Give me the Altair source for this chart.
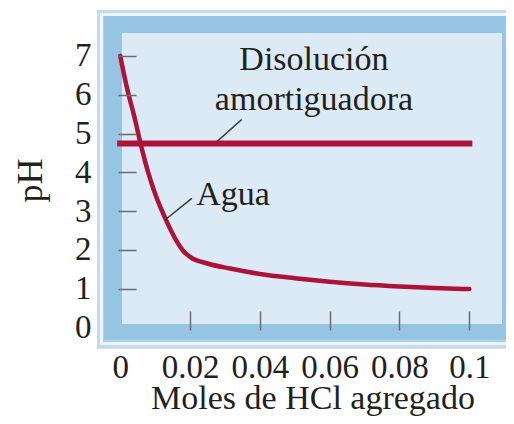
import altair as alt
import pandas as pd

# ---- data ----
water_x = [0.0, 0.002, 0.004, 0.006, 0.008, 0.010, 0.012, 0.014, 0.016, 0.018,
           0.020, 0.025, 0.0315, 0.040, 0.050, 0.060, 0.070, 0.080, 0.090, 0.100]
water_ph = [7.0, 6.15, 5.45, 4.68, 4.0, 3.45, 3.0, 2.6, 2.25, 1.98,
            1.82, 1.65, 1.52, 1.38, 1.27, 1.18, 1.11, 1.06, 1.02, 0.99]
buffer_x = [0.0, 0.1]
buffer_ph = [4.74, 4.74]

x_ticks = [0, 0.02, 0.04, 0.06, 0.08, 0.1]
y_ticks = [0, 1, 2, 3, 4, 5, 6, 7]

labels = ["Disolución", "amortiguadora", "Agua"]
label_x = [0.0555, 0.0555, 0.0323]
label_y = [6.64, 5.61, 3.16]

pointer_x = [0.0277, 0.0128]
pointer_y = [4.79, 2.77]
pointer_x2 = [0.0348, 0.0205]
pointer_y2 = [5.36, 3.33]

W, H = 409, 338
x_domain = [-0.00665, -0.00665 + W / 3491]
y_domain = [-0.528, 8.183]

RED = "#ae1238"
INK = "#231f20"
FONT = "Liberation Serif"

water = pd.DataFrame({"x": water_x, "ph": water_ph})
buffer = pd.DataFrame({"x": buffer_x, "ph": buffer_ph})
texts = pd.DataFrame({"t": labels, "x": label_x, "y": label_y})
pointers = pd.DataFrame({"x": pointer_x, "y": pointer_y, "x2": pointer_x2, "y2": pointer_y2})

xscale = alt.Scale(domain=x_domain, nice=False, zero=False)
yscale = alt.Scale(domain=y_domain, nice=False, zero=False)

hide_zero = {"condition": {"test": "datum.value === 0", "value": 0}, "value": 1}

xaxis = alt.Axis(values=x_ticks, title="Moles de HCl agregado", grid=False, domain=False,
                 offset=-37, tickSize=19, tickWidth=1.5, tickColor="#6b6b6b",
                 tickOpacity=hide_zero, zindex=1,
                 labelFont=FONT, labelFontSize=33, labelColor=INK, labelPadding=21,
                 labelOverlap=False, labelFlush=False,
                 labelExpr="datum.value === 0 ? '0' : format(datum.value, '.2~f')",
                 titleFont=FONT, titleFontSize=34, titleFontWeight="normal", titleColor=INK,
                 titleX=215.5, titleY=97, titleBaseline="alphabetic", titleAlign="center")
yaxis = alt.Axis(values=y_ticks, title="pH", grid=False, domain=False,
                 offset=-39, tickSize=18, tickWidth=1.5, tickColor="#6b6b6b",
                 tickOpacity=hide_zero, zindex=1,
                 labelFont=FONT, labelFontSize=33, labelColor=INK, labelPadding=27,
                 labelOverlap=False, labelFlush=False,
                 titleFont=FONT, titleFontSize=36, titleFontWeight="normal", titleColor=INK,
                 titleX=-95, titleY=170, titleAngle=270, titleBaseline="alphabetic",
                 titleAlign="center")

one = alt.Data(values=[{}])


def frame_rect(inset_l, inset_t, inset_r, inset_b, color):
    return alt.Chart(one).mark_rect(color=color, opacity=1).encode(
        x=alt.value(inset_l), x2=alt.value(W - inset_r),
        y=alt.value(inset_t), y2=alt.value(H - inset_b))


frames = [
    frame_rect(0, 0, 0, 0, "#c0ddf0"),
    frame_rect(3, 3, 0, 3, "#edf5fb"),
    frame_rect(6, 6, 0, 6, "#a9d0ea"),
    frame_rect(7, 6, 0, 9, "#96c4e3"),
    frame_rect(25, 23, W - 405, H - 314, "#dbeaf5"),
]

axes_layer = alt.Chart(water).mark_point(opacity=0).encode(
    x=alt.X("x:Q", scale=xscale, axis=xaxis),
    y=alt.Y("ph:Q", scale=yscale, axis=yaxis))

buffer_line = alt.Chart(buffer).mark_line(color=RED, strokeWidth=6, strokeCap="square").encode(
    x=alt.X("x:Q", scale=xscale), y=alt.Y("ph:Q", scale=yscale))

water_line = alt.Chart(water).mark_line(color=RED, strokeWidth=4.5, strokeCap="round",
                                        interpolate="monotone").encode(
    x=alt.X("x:Q", scale=xscale), y=alt.Y("ph:Q", scale=yscale))

pointer_rules = alt.Chart(pointers).mark_rule(color="#3a3a3a", strokeWidth=1.5).encode(
    x=alt.X("x:Q", scale=xscale), y=alt.Y("y:Q", scale=yscale), x2="x2:Q", y2="y2:Q")

text_layer = alt.Chart(texts).mark_text(font=FONT, fontSize=34, color=INK,
                                        align="center", baseline="alphabetic").encode(
    x=alt.X("x:Q", scale=xscale), y=alt.Y("y:Q", scale=yscale), text="t:N")

chart = alt.layer(*frames, axes_layer, buffer_line, water_line, pointer_rules, text_layer).properties(
    width=W, height=H,
    autosize=alt.AutoSizeParams(type="none"),
    padding={"left": 89, "top": 2, "right": 0, "bottom": 68},
).configure_view(stroke=None, fill=None).configure(background="white")

chart.save("out.html", embed_options={"renderer": "svg", "actions": False})
